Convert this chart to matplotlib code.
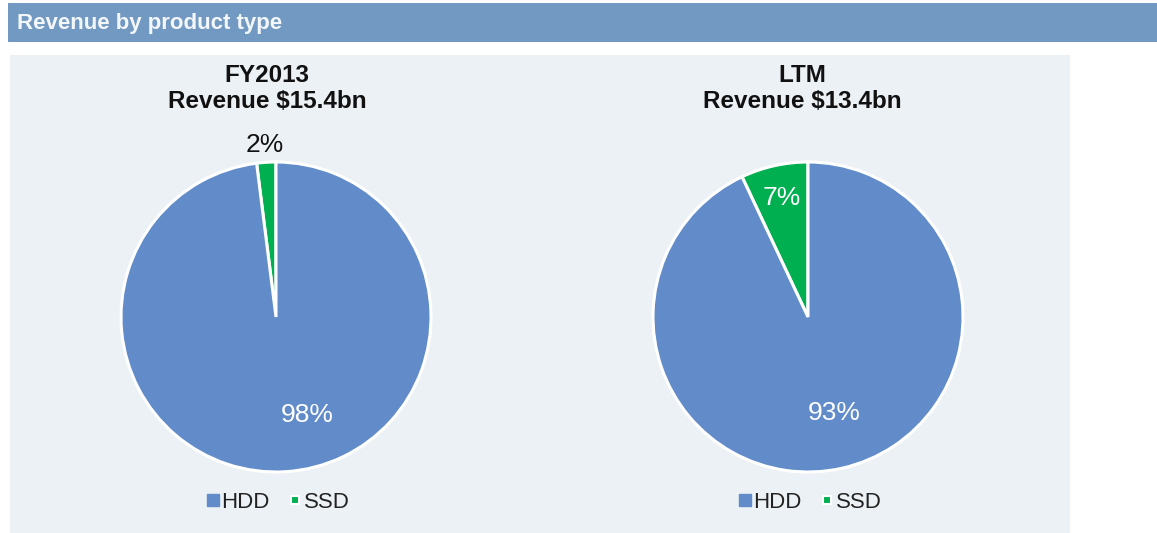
import matplotlib
matplotlib.use("Agg")
import matplotlib.pyplot as plt
from matplotlib.patches import Rectangle
from matplotlib.lines import Line2D

plt.rcParams['font.family'] = ['Liberation Sans', 'DejaVu Sans']

# ---- data ----
header = "Revenue by product type"
categories = ["HDD", "SSD"]
titles = ["FY2013\nRevenue $15.4bn", "LTM\nRevenue $13.4bn"]
values = [[98, 2], [93, 7]]

hdd_color = "#618CC9"
ssd_color = "#00B050"
colors = [hdd_color, ssd_color]

W, H = 1157, 533
fig = plt.figure(figsize=(W / 100, H / 100), dpi=100)
fig.patch.set_facecolor("white")

# header bar
fig.patches.append(Rectangle((8 / W, 1 - 42 / H), 1 - 8 / W, 39 / H,
                             transform=fig.transFigure, facecolor="#7199C1",
                             edgecolor="none", zorder=-10))
fig.text(17 / W, 1 - 23 / H, header, color="#F4F7FA", fontsize=16,
         fontweight="bold", va="center", ha="left")

# panel background
fig.patches.append(Rectangle((10 / W, 0), 1060 / W, 1 - 55 / H,
                             transform=fig.transFigure, facecolor="#ECF1F5",
                             edgecolor="none", zorder=-10))

centers_x = [276, 808]
center_y = 317
r = 155
title_x = [267, 802]

# label positions (in units of radius) for [HDD, SSD]
label_pos = [[(0.20, -0.63), (-0.07, 1.11)],
             [(0.17, -0.62), (-0.17, 0.77)]]
label_col = [["white", "#111111"], ["white", "white"]]

for i, (cx, vals) in enumerate(zip(centers_x, values)):
    ax = fig.add_axes([(cx - r) / W, (H - center_y - r) / H, 2 * r / W, 2 * r / H])
    ax.set_aspect("equal")
    # SSD first, counter-clockwise from top
    ax.pie([vals[1], vals[0]], colors=[ssd_color, hdd_color], startangle=90,
           counterclock=True, radius=1,
           wedgeprops=dict(edgecolor="white", linewidth=2.2))
    ax.set_xlim(-1, 1)
    ax.set_ylim(-1, 1)
    ax.axis("off")
    for j, cat in enumerate(categories):
        px, py = label_pos[i][j]
        ax.text(px, py, f"{vals[j]}%", ha="center", va="center",
                fontsize=19, color=label_col[i][j])
    fig.text(title_x[i] / W, 1 - 88.5 / H, titles[i], ha="center", va="center",
             fontsize=17.5, fontweight="bold", color="#111111", linespacing=1.13)
    handles = [Line2D([], [], marker="s", linestyle="none", markersize=8.5,
                      markerfacecolor=hdd_color, markeredgecolor=hdd_color),
               Line2D([], [], marker="s", linestyle="none", markersize=6,
                      markerfacecolor=ssd_color, markeredgecolor="white",
                      markeredgewidth=1.5)]
    leg = fig.legend(handles, categories, ncol=2, frameon=False,
                     loc="center", bbox_to_anchor=((cx + 2) / W, 1 - 502 / H),
                     fontsize=16, handlelength=0.6, handletextpad=0.1,
                     columnspacing=0.85, labelcolor="#222222")

fig.savefig("out.png", dpi=100, facecolor="white")
